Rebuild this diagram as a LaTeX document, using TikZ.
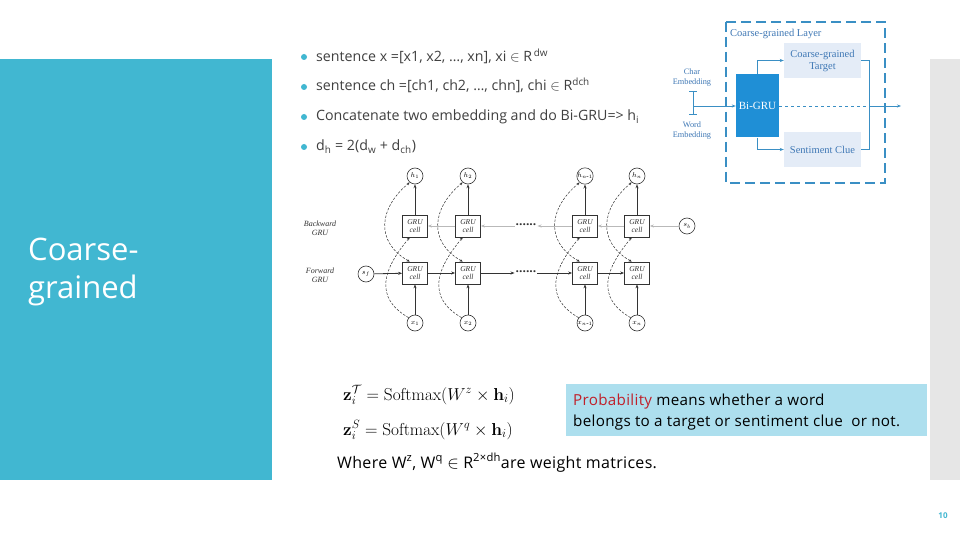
\documentclass[tikz,border=0pt]{standalone}
\usepackage[no-math]{fontspec}
\setmainfont{Open Sans}
\newfontfamily\serifx{Liberation Serif}
\newfontfamily\titlefont{Open Sans}
\newfontfamily\widefont[LetterSpace=2]{Open Sans}
\usetikzlibrary{arrows.meta}
\definecolor{slideteal}{HTML}{41B7D1}
\definecolor{graybar}{HTML}{E6E6E6}
\definecolor{bodytext}{HTML}{404040}
\definecolor{probblue}{HTML}{ADDFEE}
\definecolor{probred}{HTML}{C0202A}
\definecolor{layerblue}{HTML}{3A8FC4}
\definecolor{grufill}{HTML}{1F8FD6}
\definecolor{lightbox}{HTML}{E4ECF7}
\definecolor{labelblue}{HTML}{3F78B5}
\definecolor{gruline}{HTML}{333333}
\tikzset{
  bulletdot/.style={circle, fill=slideteal, inner sep=0pt, minimum size=6pt},
  bullettext/.style={anchor=base west, text=bodytext, font=\fontsize{14.2}{16}\selectfont, inner sep=0pt},
  layerbox/.style={rectangle, fill=lightbox, minimum width=77pt, minimum height=35pt, align=center, text=labelblue, font=\serifx\fontsize{10.5}{12}\selectfont, inner sep=1pt},
  layerarrow/.style={draw=layerblue, line width=0.7pt, -{Stealth[length=4pt,width=3pt]}},
  layerline/.style={draw=layerblue, line width=0.7pt},
  hnode/.style={circle, draw=gruline, line width=0.6pt, minimum size=16pt, inner sep=0pt, font=\serifx\itshape\fontsize{7}{7}\selectfont},
  cellnode/.style={rectangle, draw=gruline, line width=0.7pt, minimum width=25pt, minimum height=22pt, inner sep=0pt, align=center, font=\serifx\itshape\fontsize{7.5}{8.5}\selectfont, text=gruline},
  fwdarrow/.style={draw=gruline, line width=0.8pt, -{Stealth[length=4pt,width=3pt]}},
  bwdarrow/.style={draw=gray!55, line width=0.8pt, -{Stealth[length=4pt,width=3pt]}},
  skiparc/.style={draw=gruline, line width=0.5pt, dash pattern=on 2.5pt off 1.5pt, looseness=1.3},
  skiptip/.style={-{Stealth[length=3pt,width=2.5pt]}},
  sidelabel/.style={align=center, font=\serifx\itshape\fontsize{8}{9}\selectfont, text=gruline},
  dotsnode/.style={font=\bfseries\fontsize{12}{12}\selectfont, inner sep=1pt, text=gruline}
}
\begin{document}
\begin{tikzpicture}[x=1pt,y=-1pt]
\useasboundingbox (0,0) rectangle (960,540);
\fill[white] (0,0) rectangle (960,540);
\fill[slideteal] (0,59) rectangle (272,480);
\fill[graybar] (930,59) rectangle (960,480);

% left title
\node[anchor=base west, text=white, font=\titlefont\fontsize{31}{36}\selectfont, inner sep=0pt] (title1) at (28,260) {Coarse-};
\node[anchor=base west, text=white, font=\titlefont\fontsize{31}{36}\selectfont, inner sep=0pt] (title2) at (28,298) {grained};

% bullets
\node[bulletdot] (d1) at (304,57) {};
\node[bullettext] (b1) at (316,62) {sentence x =[x1, x2, \dots, xn], xi $\in$ R\textsuperscript{\,dw}};
\node[bulletdot] (d2) at (304,87) {};
\node[bullettext] (b2) at (316,91) {sentence ch =[ch1, ch2, \dots, chn], chi $\in$ R\textsuperscript{dch}};
\node[bulletdot] (d3) at (304,117) {};
\node[bullettext] (b3) at (316,121) {Concatenate two embedding and do Bi-GRU=> h\textsubscript{i}};
\node[bulletdot] (d4) at (304,147) {};
\node[bullettext] (b4) at (316,151) {d\textsubscript{h} = 2(d\textsubscript{w} + d\textsubscript{ch})};

% coarse-grained layer figure
\draw[layerblue, line width=1.6pt, dash pattern=on 10pt off 5pt] (726,22) rectangle (885,183);
\node[anchor=west, text=labelblue, font=\serifx\fontsize{10.5}{12}\selectfont, inner sep=0pt] (ltitle) at (730,34) {Coarse-grained Layer};
\node[rectangle, fill=grufill, minimum width=43pt, minimum height=63pt, inner sep=0pt, text=white, font=\serifx\fontsize{11}{13}\selectfont] (bigru) at (757.5,106) {Bi-GRU};
\node[layerbox] (target) at (822.5,60.5) {Coarse-grained\\Target};
\node[layerbox] (sent) at (822.5,149.5) {Sentiment Clue};
\node[align=center, text=labelblue, font=\serifx\fontsize{8.3}{10}\selectfont, inner sep=0pt] (charemb) at (692,77.5) {Char\\Embedding};
\node[align=center, text=labelblue, font=\serifx\fontsize{8.3}{10}\selectfont, inner sep=0pt] (wordemb) at (692,130.5) {Word\\Embedding};
\coordinate (brtop) at (693,91);
\coordinate (brbot) at (693,114);
\coordinate (brmid) at (693,106);
\draw[layerline] ([xshift=-4pt]brtop) -- ([xshift=4pt]brtop);
\draw[layerline] ([xshift=-4pt]brbot) -- ([xshift=4pt]brbot);
\draw[layerline] (brtop) -- (brbot);
\draw[layerarrow] (brmid) -- (bigru);
\draw[layerarrow] (bigru.north) |- (target.west);
\draw[layerarrow] (bigru.south) |- (sent.west);
\coordinate (join) at (869,106);
\coordinate (outp) at (901,106);
\draw[layerline, dashed] (bigru.east) -- (join);
\draw[layerarrow] (join) -- (outp);
\draw[layerline] (target.east) -| (join) |- (sent.east);

% Bi-GRU unrolled diagram
\node[sidelabel] (bwlab) at (320,228) {Backward\\GRU};
\node[sidelabel] (fwlab) at (320,275) {Forward\\GRU};

\node[hnode] (h1) at (415,176) {$h_1$};
\node[hnode] (h2) at (468,176) {$h_2$};
\node[hnode] (h3) at (585,176) {$h_{n\mbox{-}1}$};
\node[hnode] (h4) at (637,176) {$h_n$};

\node[cellnode] (bc1) at (415,226) {GRU\\cell};
\node[cellnode] (bc2) at (468,226) {GRU\\cell};
\node[cellnode] (bc3) at (585,226) {GRU\\cell};
\node[cellnode] (bc4) at (637,226) {GRU\\cell};

\node[cellnode] (fc1) at (415,273) {GRU\\cell};
\node[cellnode] (fc2) at (468,273) {GRU\\cell};
\node[cellnode] (fc3) at (585,273) {GRU\\cell};
\node[cellnode] (fc4) at (637,273) {GRU\\cell};

\node[hnode] (x1) at (415,323) {$x_1$};
\node[hnode] (x2) at (468,323) {$x_2$};
\node[hnode] (x3) at (585,323) {$x_{n\mbox{-}1}$};
\node[hnode] (x4) at (637,323) {$x_n$};

\node[hnode] (sf) at (366,274) {$s_f$};
\node[hnode] (sb) at (687,226) {$s_b$};

\node[dotsnode] (bdots) at (526,225) {......};
\node[dotsnode] (fdots) at (526,272) {......};

% backward chain
\draw[bwdarrow] (sb) -- (bc4);
\draw[bwdarrow] (bc4) -- (bc3);
\draw[bwdarrow] (bc3) -- (bdots.east |- bc3);
\draw[bwdarrow] (bdots.west |- bc2) -- (bc2);
\draw[bwdarrow] (bc2) -- (bc1);
% forward chain
\draw[fwdarrow] (sf) -- (fc1);
\draw[fwdarrow] (fc1) -- (fc2);
\draw[fwdarrow] (fc2) -- (fdots.west |- fc2);
\draw[fwdarrow] (fdots.east |- fc3) -- (fc3);
\draw[fwdarrow] (fc3) -- (fc4);

% vertical
\foreach \i in {1,2,3,4}{
  \draw[fwdarrow] (x\i) -- (fc\i);
  \draw[fwdarrow] (bc\i) -- (h\i);
  \draw[skiparc, skiptip] (x\i.140) to[out=150, in=-130] (bc\i.-115);
  \draw[skiparc, {Stealth[length=3pt,width=2.5pt]}-{Stealth[length=3pt,width=2.5pt]}] (fc\i.115) to[out=150, in=-140] (h\i.-130);
}

% formulas
\node[anchor=base west, inner sep=0pt, font=\fontsize{18.8}{21}\selectfont] (eq1) at (343,400) {$\mathbf{z}_i^{\mathcal{T}} = \mathrm{Softmax}(W^{z}\times \mathbf{h}_i)$};
\node[anchor=base west, inner sep=0pt, font=\fontsize{18.8}{21}\selectfont] (eq2) at (343,435) {$\mathbf{z}_i^{S} = \mathrm{Softmax}(W^{q}\times \mathbf{h}_i)$};

% probability box
\node[rectangle, fill=probblue, minimum width=361pt, minimum height=52pt, inner sep=0pt, anchor=north west] (pbox) at (566,384) {};
\node[anchor=base west, inner sep=0pt, font=\widefont\fontsize{15.2}{16}\selectfont] (ptext1) at (573,405) {\textcolor{probred}{Probability} means whether a word};
\node[anchor=base west, inner sep=0pt, font=\widefont\fontsize{15.2}{16}\selectfont] (ptext2) at (573,426) {belongs to a target or sentiment clue\ \ or not.};

% where line
\node[anchor=base west, inner sep=0pt, font=\widefont\fontsize{16}{18}\selectfont] (where) at (337,468) {Where W\textsuperscript{z}, W\textsuperscript{q} $\in$ R\textsuperscript{2×dh}are weight matrices.};

% page number
\node[text=slideteal, font=\bfseries\fontsize{8}{9}\selectfont, inner sep=0pt] (pnum) at (943,516) {10};
\end{tikzpicture}
\end{document}
